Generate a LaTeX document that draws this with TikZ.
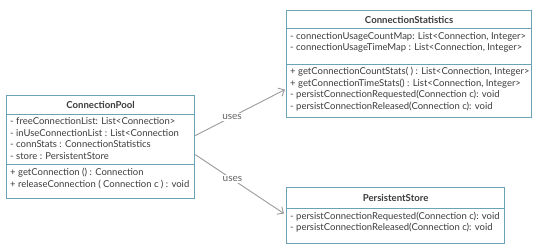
\documentclass[tikz,border=0pt]{standalone}
\usepackage{fontspec}
\setmainfont{Lato}
\usetikzlibrary{arrows.meta}
\definecolor{boxc}{HTML}{6AA3B8}
\definecolor{txt}{HTML}{3C3C3C}
\definecolor{arr}{HTML}{9A9A9A}
\tikzset{
  comp/.style={draw=boxc, line width=1.2pt, fill=white, anchor=north west, inner sep=0pt},
  head/.style={font=\bfseries\fontsize{9.6}{11}\selectfont, text=txt},
  lines/.style={font=\fontsize{9.5}{11.7}\selectfont, text=txt, align=left, anchor=west, inner sep=0pt},
  conn/.style={draw=arr, line width=0.9pt, -{Straight Barb[length=5pt,width=9pt]}},
  lbl/.style={font=\fontsize{10}{11}\selectfont, text=txt!80, fill=white, inner sep=1.5pt}
}
\begin{document}
\begin{tikzpicture}[x=1pt,y=-1pt]
\useasboundingbox (0,0) rectangle (540,251);
% ConnectionPool
\node[comp, minimum width=188pt, minimum height=19pt] (poolhead) at (6,95) {};
\node[comp, minimum width=188pt, minimum height=50pt] (poolattr) at (6,114) {};
\node[comp, minimum width=188pt, minimum height=34pt] (poolops) at (6,164) {};
\node[head] (poolname) at (poolhead.center) {ConnectionPool};
\node[lines] (pooltxt) at (10,138.5) {- freeConnectionList: List<Connection>\\- inUseConnectionList : List<Connection\\- connStats : ConnectionStatistics\\- store : PersistentStore};
\node[lines] (poolmtxt) at (10,178.5) {+ getConnection () : Connection\\+ releaseConnection ( Connection c ) : void};
% ConnectionStatistics
\node[comp, minimum width=245pt, minimum height=18pt] (statshead) at (286,10) {};
\node[comp, minimum width=245pt, minimum height=36pt] (statsattr) at (286,28) {};
\node[comp, minimum width=245pt, minimum height=53pt] (statsops) at (286,64) {};
\node[head] (statsname) at (statshead.center) {ConnectionStatistics};
\node[lines] (statstxt) at (290,42.5) {- connectionUsageCountMap: List<Connection, Integer>\\- connectionUsageTimeMap : List<Connection, Integer>};
\node[lines] (statsmtxt) at (290,89.2) {+ getConnectionCountStats( ) : List<Connection, Integer>\\+ getConnectionTimeStats() : List<Connection, Integer>\\- persistConnectionRequested(Connection c): void\\- persistConnectionReleased(Connection c): void};
% PersistentStore
\node[comp, minimum width=218pt, minimum height=21pt] (pshead) at (286,187) {};
\node[comp, minimum width=218pt, minimum height=35pt] (psbody) at (286,208) {};
\node[head] (psname) at (pshead.center) {PersistentStore};
\node[lines] (pstxt) at (290,222.2) {- persistConnectionRequested(Connection c): void\\- persistConnectionReleased(Connection c): void};
% connectors
\draw[conn] ([yshift=4pt]poolattr.east) -- node[lbl, pos=0.41] (l1) {uses} ([yshift=1.5pt,xshift=-1pt]statsops.west);
\draw[conn] ([yshift=-15pt]poolattr.east) -- node[lbl, pos=0.42] (l2) {uses} ([yshift=12.5pt,xshift=-2pt]psbody.west);
\end{tikzpicture}
\end{document}
